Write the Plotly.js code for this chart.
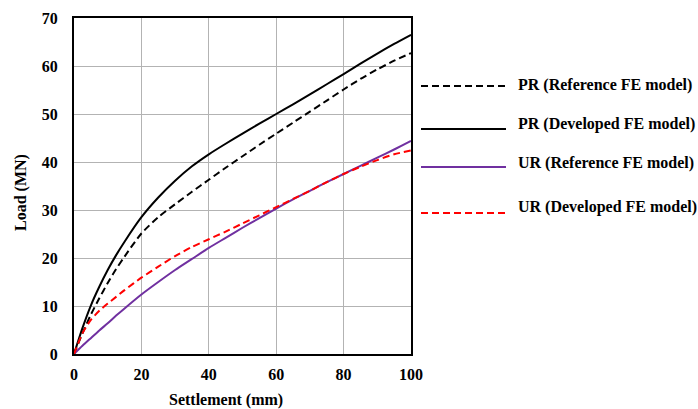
<!DOCTYPE html>
<html>
<head>
<meta charset="utf-8">
<script src="https://cdn.plot.ly/plotly-3.0.1.min.js"></script>
<style>
  html, body { margin: 0; padding: 0; background: #ffffff; }
  #chart { width: 698px; height: 409px; }
</style>
</head>
<body>
<div id="chart"></div>
<script>
// Load–settlement curves for piled raft (PR) and unpiled raft (UR)
const settlement = [0, 2.5, 5, 7.5, 10, 12.5, 15, 20, 25, 30, 35, 40, 45, 50, 55, 60, 65, 70, 75, 80, 85, 90, 95, 100];

const prRefLoad = [0, 4.3, 8.2, 11.6, 14.8, 17.7, 20.3, 25.1, 28.5, 31.2, 33.8, 36.3, 38.8, 41.2, 43.6, 45.9, 48.2, 50.5, 52.8, 55.1, 57.3, 59.3, 61.1, 62.7];
const prDevLoad = [0, 5.4, 10.1, 14.0, 17.5, 20.6, 23.4, 28.5, 32.6, 36.1, 39.1, 41.6, 43.8, 45.9, 48.0, 50.0, 52.0, 54.1, 56.2, 58.3, 60.5, 62.6, 64.6, 66.5];
const urRefLoad = [0, 1.7, 3.3, 4.9, 6.4, 8.0, 9.5, 12.4, 15.0, 17.5, 19.8, 22.1, 24.2, 26.3, 28.3, 30.3, 32.2, 34.0, 35.8, 37.5, 39.2, 40.9, 42.6, 44.4];
const urDevLoad = [0, 4.3, 7.1, 9.0, 10.5, 11.9, 13.3, 15.9, 18.2, 20.4, 22.3, 23.9, 25.5, 27.2, 28.9, 30.6, 32.3, 34.0, 35.8, 37.5, 39.0, 40.4, 41.6, 42.4];

const seriesNames = [
  'PR (Reference FE model)',
  'PR (Developed FE model)',
  'UR (Reference FE model)',
  'UR (Developed FE model)'
];
const seriesColors = ['#000000', '#000000', '#7030A0', '#FF0000'];
const seriesDashes = ['7px,4px', 'solid', 'solid', '7px,4px'];

const xTicks = [0, 20, 40, 60, 80, 100];
const yTicks = [0, 10, 20, 30, 40, 50, 60, 70];
const xTitle = 'Settlement (mm)';
const yTitle = 'Load (MN)';

const FONT = 'Liberation Serif, Times New Roman, serif';
const boldFont = size => ({ family: FONT, size: size, color: '#000000', weight: 'bold' });

const ys = [prRefLoad, prDevLoad, urRefLoad, urDevLoad];

const traces = ys.map((y, i) => ({
  x: settlement,
  y: y,
  type: 'scatter',
  mode: 'lines',
  name: seriesNames[i],
  line: { color: seriesColors[i], width: 2, dash: seriesDashes[i], shape: 'spline', smoothing: 0.7 },
  showlegend: false,
  hoverinfo: 'skip'
}));

// Plot frame in pixels: left 74, right 411, top 18, bottom 354
const L = 74, R = 411, T = 18, B = 354;
const W = 698, H = 409;
const px2x = p => (p - L) / (R - L);
const px2y = p => (B - p) / (B - T);

// Legend keys placed to the right of the plot
const keyLineY = [86, 129, 167, 213];
const keyTextY = [85, 124, 163, 207];
const shapes = [];
const annotations = [];
seriesNames.forEach((name, i) => {
  shapes.push({
    type: 'line', xref: 'paper', yref: 'paper',
    x0: px2x(421), x1: px2x(506), y0: px2y(keyLineY[i]), y1: px2y(keyLineY[i]),
    line: { color: seriesColors[i], width: 2, dash: seriesDashes[i] }
  });
  annotations.push({
    xref: 'paper', yref: 'paper', x: px2x(516), y: px2y(keyTextY[i]),
    xanchor: 'left', yanchor: 'middle', showarrow: false,
    text: name,
    font: boldFont(16)
  });
});

// Axis titles
annotations.push({
  xref: 'paper', yref: 'paper', x: px2x(226), y: px2y(400),
  xanchor: 'center', yanchor: 'middle', showarrow: false,
  text: xTitle, font: boldFont(16)
});
annotations.push({
  xref: 'paper', yref: 'paper', x: px2x(21), y: px2y(193),
  xanchor: 'center', yanchor: 'middle', showarrow: false, textangle: -90,
  text: yTitle, font: boldFont(16)
});

const axisCommon = {
  showgrid: true,
  gridcolor: '#b3b3b3',
  gridwidth: 1,
  zeroline: false,
  showline: true,
  linecolor: '#000000',
  linewidth: 2,
  mirror: true,
  ticks: '',
  tickfont: boldFont(16)
};

const layout = {
  width: W,
  height: H,
  margin: { l: L, r: W - R, t: T, b: H - B },
  paper_bgcolor: '#ffffff',
  plot_bgcolor: '#ffffff',
  showlegend: false,
  xaxis: Object.assign({}, axisCommon, {
    range: [0, 100],
    tickvals: xTicks,
    ticklabelstandoff: 5
  }),
  yaxis: Object.assign({}, axisCommon, {
    range: [0, 70],
    tickvals: yTicks,
    ticklabelstandoff: 11
  }),
  shapes: shapes,
  annotations: annotations
};

Plotly.newPlot('chart', traces, layout, { displayModeBar: false, staticPlot: true });
</script>
</body>
</html>
